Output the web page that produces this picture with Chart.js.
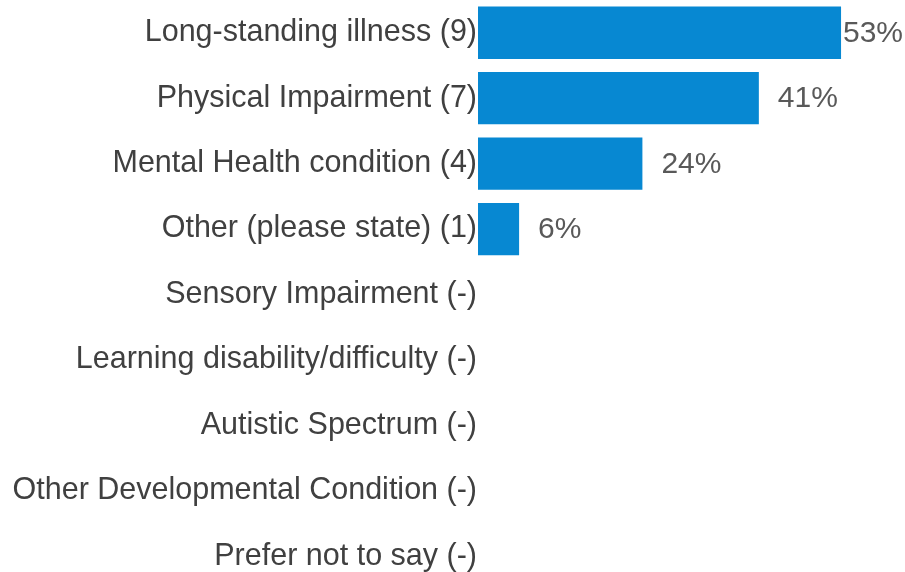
<!DOCTYPE html>
<html lang="en">
<head>
  <meta charset="UTF-8">
  <title>Disability type</title>
  <script src="https://cdn.jsdelivr.net/npm/chart.js"></script>
  <style>
    html, body { margin: 0; padding: 0; background: #fff; overflow: hidden; }
    #wrap { width: 905px; height: 589px; position: relative; }
  </style>
</head>
<body>
  <div id="wrap"><canvas id="chart"></canvas></div>

  <script>
    // categories, respondent counts and share of respondents (%)
    const categories = [
      'Long-standing illness',
      'Physical Impairment',
      'Mental Health condition',
      'Other (please state)',
      'Sensory Impairment',
      'Learning disability/difficulty',
      'Autistic Spectrum',
      'Other Developmental Condition',
      'Prefer not to say'
    ];
    const counts = [9, 7, 4, 1, null, null, null, null, null];
    const percents = [53, 41, 24, 6, null, null, null, null, null];

    const labels = categories.map((c, i) => c + ' (' + (counts[i] === null ? '-' : counts[i]) + ')');

    const FONT = '"Liberation Sans", Arial, sans-serif';

    // percentage text to the right of each bar, kept inside the canvas
    const valueLabels = {
      id: 'valueLabels',
      afterDatasetsDraw(chart) {
        const ctx = chart.ctx;
        const meta = chart.getDatasetMeta(0);
        ctx.save();
        ctx.font = '30px ' + FONT;
        ctx.fillStyle = '#595959';
        ctx.textAlign = 'left';
        ctx.textBaseline = 'middle';
        meta.data.forEach((bar, i) => {
          const v = percents[i];
          if (v === null) return;
          const txt = v + '%';
          const w = ctx.measureText(txt).width;
          let x = bar.x + 19;
          if (x + w > chart.width - 2) x = chart.width - 2 - w;
          ctx.fillText(txt, x, bar.y + 1);
        });
        ctx.restore();
      }
    };

    new Chart(document.getElementById('chart'), {
      type: 'bar',
      data: {
        labels: labels,
        datasets: [{
          data: percents,
          backgroundColor: '#0788D2',
          borderWidth: 0,
          barPercentage: 0.8,
          categoryPercentage: 1.0
        }]
      },
      options: {
        indexAxis: 'y',
        responsive: true,
        maintainAspectRatio: false,
        animation: false,
        layout: { padding: { left: 0, right: 16, top: 0, bottom: 0 } },
        plugins: {
          legend: { display: false },
          tooltip: { enabled: false }
        },
        scales: {
          x: {
            display: false,
            min: 0,
            max: 60
          },
          y: {
            grid: { display: false, drawTicks: false },
            border: { display: false },
            afterFit(scale) {
              scale.width = 478;
              scale.paddingTop = 0;
              scale.paddingBottom = 0;
            },
            ticks: {
              autoSkip: false,
              padding: 1,
              color: '#404040',
              font: { family: FONT, size: 30.5 }
            }
          }
        }
      },
      plugins: [valueLabels]
    });
  </script>
</body>
</html>
